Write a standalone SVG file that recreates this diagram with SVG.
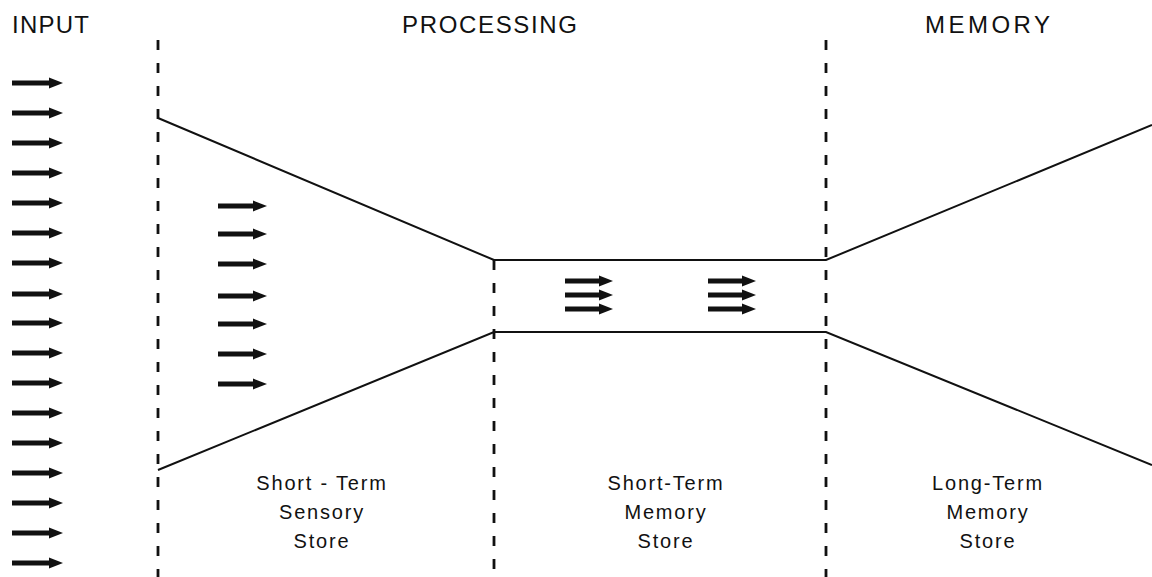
<svg xmlns="http://www.w3.org/2000/svg" width="1152" height="577" viewBox="0 0 1152 577">
<style>
.t{font-family:"Liberation Sans",Arial,sans-serif;fill:#111}
.h{font-size:24px}
.l{font-size:20px;letter-spacing:1.8px;text-anchor:middle}
.dash{stroke:#111;stroke-width:2.8;stroke-dasharray:10 13;fill:none}
.edge{stroke:#111;stroke-width:2;fill:none}
.arr{stroke:#111;stroke-width:5;marker-end:url(#ah)}
</style>
<defs>
<marker id="ah" markerUnits="userSpaceOnUse" markerWidth="15" markerHeight="12" refX="0" refY="6" orient="auto">
<path d="M0,0.5 L14,6 L0,11.5 Z" fill="#111"/>
</marker>
</defs>
<rect width="1152" height="577" fill="#fff"/>
<g id="headers">
<text class="t h" x="12" y="33" textLength="77" lengthAdjust="spacing">INPUT</text>
<text class="t h" x="402" y="33" textLength="175" lengthAdjust="spacing">PROCESSING</text>
<text class="t h" x="925" y="33" textLength="125" lengthAdjust="spacing">MEMORY</text>
</g>
<g id="connectors">
<line class="dash" x1="158" y1="40" x2="158" y2="577"/>
<line class="dash" x1="494" y1="260" x2="494" y2="577"/>
<line class="dash" x1="826" y1="40" x2="826" y2="577"/>
<polyline class="edge" points="158,118 494,260 826,260 1152,125"/>
<polyline class="edge" points="158,470 494,332 826,332 1152,465"/>
</g>
<g id="input-arrows">
<line class="arr" x1="12" y1="83" x2="49" y2="83"/>
<line class="arr" x1="12" y1="113" x2="49" y2="113"/>
<line class="arr" x1="12" y1="143" x2="49" y2="143"/>
<line class="arr" x1="12" y1="173" x2="49" y2="173"/>
<line class="arr" x1="12" y1="203" x2="49" y2="203"/>
<line class="arr" x1="12" y1="233" x2="49" y2="233"/>
<line class="arr" x1="12" y1="263" x2="49" y2="263"/>
<line class="arr" x1="12" y1="294" x2="49" y2="294"/>
<line class="arr" x1="12" y1="323" x2="49" y2="323"/>
<line class="arr" x1="12" y1="353" x2="49" y2="353"/>
<line class="arr" x1="12" y1="383" x2="49" y2="383"/>
<line class="arr" x1="12" y1="413" x2="49" y2="413"/>
<line class="arr" x1="12" y1="443" x2="49" y2="443"/>
<line class="arr" x1="12" y1="473" x2="49" y2="473"/>
<line class="arr" x1="12" y1="503" x2="49" y2="503"/>
<line class="arr" x1="12" y1="533" x2="49" y2="533"/>
<line class="arr" x1="12" y1="563" x2="49" y2="563"/>
</g>
<g id="sensory-store">
<line class="arr" x1="218" y1="206" x2="253" y2="206"/>
<line class="arr" x1="218" y1="234" x2="253" y2="234"/>
<line class="arr" x1="218" y1="264" x2="253" y2="264"/>
<line class="arr" x1="218" y1="296" x2="253" y2="296"/>
<line class="arr" x1="218" y1="324" x2="253" y2="324"/>
<line class="arr" x1="218" y1="354" x2="253" y2="354"/>
<line class="arr" x1="218" y1="384" x2="253" y2="384"/>
<text class="t l" x="322" y="490">Short - Term</text>
<text class="t l" x="322" y="519">Sensory</text>
<text class="t l" x="322" y="548">Store</text>
</g>
<g id="short-term-memory">
<line class="arr" x1="565" y1="281" x2="599" y2="281"/>
<line class="arr" x1="565" y1="295" x2="599" y2="295"/>
<line class="arr" x1="565" y1="309" x2="599" y2="309"/>
<line class="arr" x1="708" y1="281" x2="742" y2="281"/>
<line class="arr" x1="708" y1="295" x2="742" y2="295"/>
<line class="arr" x1="708" y1="309" x2="742" y2="309"/>
<text class="t l" x="666" y="490">Short-Term</text>
<text class="t l" x="666" y="519">Memory</text>
<text class="t l" x="666" y="548">Store</text>
</g>
<g id="long-term-memory">
<text class="t l" x="988" y="490">Long-Term</text>
<text class="t l" x="988" y="519">Memory</text>
<text class="t l" x="988" y="548">Store</text>
</g>
</svg>
